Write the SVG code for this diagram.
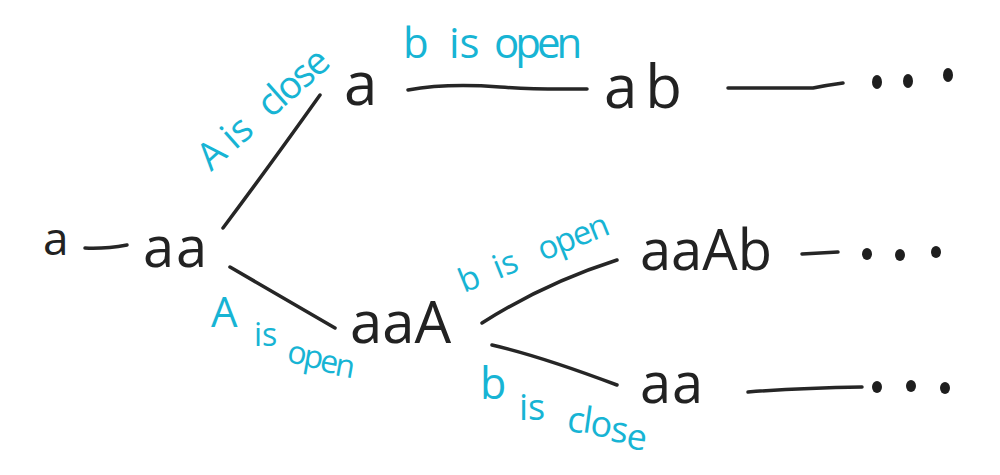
<svg xmlns="http://www.w3.org/2000/svg" width="1000" height="475" viewBox="0 0 1000 475">
<style>
.node{font-family:"Open Sans","Liberation Sans",sans-serif;fill:#222;font-weight:400}
.lbl{font-family:"Open Sans","Liberation Sans",sans-serif;fill:#17b4d4;font-weight:400}
.edge{fill:none;stroke:#262626;stroke-width:3.5;stroke-linecap:round;stroke-linejoin:round}
.dot{fill:#1e1e1e}
</style>
<rect width="1000" height="475" fill="#fff"/>
<g id="connectors">
<path class="edge" d="M85,248 Q105,249 127,245"/>
<path class="edge" d="M223,228 Q268,168 320,95"/>
<path class="edge" d="M408,90 C430,86 460,84 500,87 S560,89 587,89"/>
<path class="edge" d="M728,88 L813,88 Q828,85 843,83"/>
<path class="edge" d="M230,267 Q270,290 335,328"/>
<path class="edge" d="M482,323 Q545,283 617,260"/>
<path class="edge" d="M492,345 Q540,356 617,385"/>
<path class="edge" d="M802,254 L838,252"/>
<path class="edge" d="M748,392 Q800,388 862,387"/>
</g>
<g id="labels">
<text class="lbl" font-size="42"><tspan x="403" y="58">b</tspan><tspan x="449" y="58">is</tspan><tspan x="494" y="58" letter-spacing="-4">open</tspan></text>
<text class="lbl" font-size="38" transform="translate(211,172) rotate(-41.5)"><tspan x="0" y="0">A</tspan><tspan x="32" y="0">is</tspan><tspan x="80" y="0" letter-spacing="-2">close</tspan></text>
<text class="lbl" font-size="33" transform="translate(464,293) rotate(-22)"><tspan x="0" y="0">b</tspan><tspan x="37" y="0">is</tspan><tspan x="85" y="0" letter-spacing="-1.5">open</tspan></text>
<text class="lbl" font-size="32"><tspan x="211" y="327" font-size="42">A</tspan><tspan x="254" y="346">is</tspan><tspan x="286" y="362" dy="0 4 5 4" letter-spacing="-3" rotate="10">open</tspan></text>
<text class="lbl" font-size="36"><tspan x="480" y="399" font-size="43">b</tspan><tspan x="519" y="420">is</tspan><tspan x="566" y="431" dy="0 1 3 6 7" letter-spacing="-1.5" rotate="8">close</tspan></text>
</g>
<g id="n-a"><text class="node" x="43" y="255" font-size="46" font-weight="700">a</text></g>
<g id="n-aa"><text class="node" x="143" y="267" font-size="56" letter-spacing="2">aa</text></g>
<g id="n-a-top"><text class="node" x="344" y="105" font-size="60">a</text></g>
<g id="n-ab"><text class="node" x="604" y="108" font-size="60" letter-spacing="8">ab</text></g>
<g id="n-aaA"><text class="node" x="350" y="343" font-size="58">aaA</text></g>
<g id="n-aaAb"><text class="node" x="640" y="270" font-size="56">aaAb</text></g>
<g id="n-aa-low"><text class="node" x="640" y="403" font-size="56" letter-spacing="1">aa</text></g>
<g id="n-more-top"><ellipse class="dot" cx="877" cy="82" rx="5" ry="7"/><ellipse class="dot" cx="908" cy="81" rx="5" ry="7"/><ellipse class="dot" cx="948" cy="75" rx="5" ry="7"/></g>
<g id="n-more-mid"><ellipse class="dot" cx="867" cy="254" rx="5" ry="6"/><ellipse class="dot" cx="900" cy="255" rx="5" ry="6"/><ellipse class="dot" cx="936" cy="252" rx="5" ry="6"/></g>
<g id="n-more-low"><ellipse class="dot" cx="877" cy="387" rx="5" ry="6"/><ellipse class="dot" cx="911" cy="386" rx="5" ry="6"/><ellipse class="dot" cx="945" cy="388" rx="5" ry="6"/></g>
</svg>
